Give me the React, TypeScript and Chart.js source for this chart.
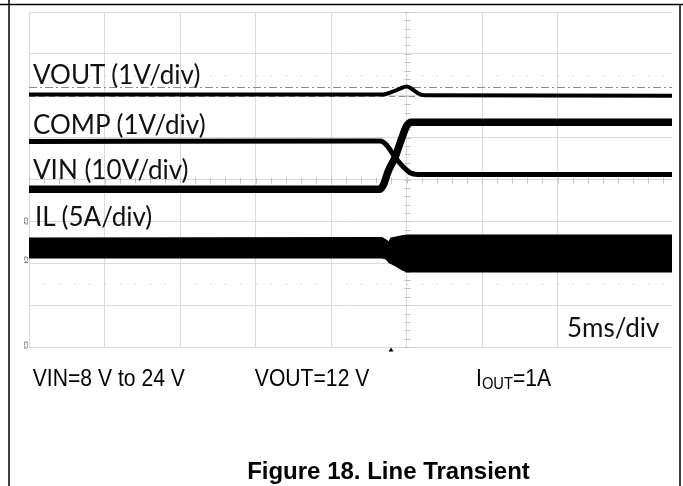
import React, { useEffect, useRef } from "react";
import { Chart, registerables } from "chart.js";

Chart.register(...registerables);

// Horizontal axis: time in ms relative to the trigger (5 ms/div).
// Vertical axis: screen divisions (8 div, centre line = 0).

const voutTime = [-25, -1.56, -0.96, -0.43, 0, 0.36, 0.76, 1.23, 17.58];
const voutDiv = [2.03, 2.03, 2.09, 2.17, 2.22, 2.16, 2.06, 2.01, 2.0];

const compTime = [-25, -1.75, -1.31, -0.76, -0.21, 0.23, 0.76, 17.58];
const compDiv = [0.91, 0.92, 0.82, 0.53, 0.3, 0.16, 0.12, 0.12];

const vinTime = [-25, -1.75, -1.54, -1.21, -0.76, -0.32, 0.01, 0.3, 17.58];
const vinDiv = [-0.23, -0.23, -0.135, 0.2, 0.53, 0.98, 1.28, 1.37, 1.37];

const ilTime = [-25, -1.62, -1.36, -1.16, -1.03, -0.7, -0.3, 0.03, 17.58];
const ilTopDiv = [-1.4, -1.39, -1.45, -1.5, -1.4, -1.38, -1.35, -1.33, -1.33];
const ilBottomDiv = [-1.87, -1.87, -1.89, -1.98, -2.0, -2.06, -2.15, -2.2, -2.2];

const dottedRows = [2.5, -2.5];
const cursorDashDot = 2.2;
const cursorDashed = 2.0;
const triggerTime = -1.03;

const channelLabels = ["VOUT (1V/div)", "COMP (1V/div)", "VIN (10V/div)", "IL (5A/div)"];
const timeBaseLabel = "5ms/div";
const conditionLabels = ["VIN=8 V to 24 V", "VOUT=12 V"];
const figureTitle = "Figure 18. Line Transient";

const W = 683;
const H = 486;

const pts = (xs: number[], ys: number[]) => xs.map((x, i) => ({ x, y: ys[i] }));

const scopeDecor = {
  id: "scopeDecor",
  beforeDatasetsDraw(chart: any) {
    const { ctx, scales } = chart;
    const x = scales.x;
    const y = scales.y;
    ctx.save();
    ctx.strokeStyle = "#c2c2c2";
    ctx.lineWidth = 1;
    const cx = Math.round(x.getPixelForValue(0)) + 0.5;
    const cy = Math.round(y.getPixelForValue(0)) + 0.5;
    ctx.beginPath();
    for (let i = -20; i <= 20; i++) {
      const py = Math.round(y.getPixelForValue(i * 0.2)) + 0.5;
      ctx.moveTo(cx - 3, py);
      ctx.lineTo(cx + 3, py);
    }
    for (let t = -25; t <= 17.5; t += 1) {
      const px = Math.round(x.getPixelForValue(t)) + 0.5;
      ctx.moveTo(px, cy - 3);
      ctx.lineTo(px, cy + 3);
    }
    ctx.stroke();
    ctx.fillStyle = "#bdbdbd";
    for (const row of dottedRows) {
      const py = Math.round(y.getPixelForValue(row));
      for (let t = -25; t <= 17.5; t += 1) {
        const px = Math.round(x.getPixelForValue(t));
        ctx.fillRect(px, py, 1, 1);
      }
    }
    ctx.strokeStyle = "#8c8c8c";
    ctx.setLineDash([8, 3, 2, 3]);
    let py = Math.round(y.getPixelForValue(cursorDashDot)) + 0.5;
    ctx.beginPath();
    ctx.moveTo(x.left, py);
    ctx.lineTo(x.right, py);
    ctx.stroke();
    ctx.setLineDash([6, 4]);
    py = Math.round(y.getPixelForValue(cursorDashed)) + 0.5;
    ctx.beginPath();
    ctx.moveTo(x.left, py);
    ctx.lineTo(x.right, py);
    ctx.stroke();
    ctx.restore();
  },
  afterDraw(chart: any) {
    const { ctx, scales } = chart;
    const px = scales.x.getPixelForValue(triggerTime);
    const by = scales.y.getPixelForValue(-4);
    ctx.save();
    ctx.fillStyle = "#000";
    ctx.beginPath();
    ctx.moveTo(px, by + 0.5);
    ctx.lineTo(px - 2.5, by + 4.5);
    ctx.lineTo(px + 2.5, by + 4.5);
    ctx.closePath();
    ctx.fill();
    ctx.restore();
  },
};

export default function App() {
  const ref = useRef<HTMLCanvasElement>(null);

  useEffect(() => {
    const gridColor = "#dadada";
    const chart = new Chart(ref.current as HTMLCanvasElement, {
      type: "line",
      data: {
        datasets: [
          {
            label: "IL top",
            data: pts(ilTime, ilTopDiv),
            borderColor: "#000",
            borderWidth: 1.5,
            pointRadius: 0,
            fill: false,
          },
          {
            label: "IL bottom",
            data: pts(ilTime, ilBottomDiv),
            borderColor: "#000",
            borderWidth: 1.5,
            pointRadius: 0,
            fill: "-1",
            backgroundColor: "#000",
          },
          {
            label: "VIN",
            data: pts(vinTime, vinDiv),
            borderColor: "#000",
            borderWidth: 7.5,
            pointRadius: 0,
            cubicInterpolationMode: "monotone",
            fill: false,
          },
          {
            label: "COMP",
            data: pts(compTime, compDiv),
            borderColor: "#000",
            borderWidth: 5,
            pointRadius: 0,
            cubicInterpolationMode: "monotone",
            fill: false,
          },
          {
            label: "VOUT",
            data: pts(voutTime, voutDiv),
            borderColor: "#000",
            borderWidth: 4,
            pointRadius: 0,
            cubicInterpolationMode: "monotone",
            fill: false,
          },
        ],
      },
      options: {
        animation: false,
        responsive: false,
        devicePixelRatio: 1,
        layout: { padding: { left: 29, top: 12, right: 11, bottom: 139 } },
        plugins: { legend: { display: false }, tooltip: { enabled: false } },
        scales: {
          x: {
            type: "linear",
            min: -25,
            max: 17.58,
            afterBuildTicks: (s: any) => {
              s.ticks = s.ticks.filter((t: any) => Math.abs(t.value / 5 - Math.round(t.value / 5)) < 1e-6);
            },
            ticks: { display: false, stepSize: 5 },
            grid: { color: gridColor, drawTicks: false, lineWidth: 1 },
            border: { display: false },
          },
          y: {
            type: "linear",
            min: -4,
            max: 4,
            ticks: { display: false, stepSize: 1 },
            grid: { color: gridColor, drawTicks: false, lineWidth: 1 },
            border: { display: false },
          },
        },
      },
      plugins: [scopeDecor],
    } as any);
    return () => chart.destroy();
  }, []);

  const scopeFont = "Lato, 'Open Sans', sans-serif";
  const docFont = "'Liberation Sans', Arial, sans-serif";
  const sx = 0.92;
  const fs = 26;

  return (
    <div style={{ position: "absolute", left: 0, top: 0, width: W, height: H, background: "#fff", overflow: "hidden" }}>
      <canvas ref={ref} width={W} height={H} style={{ position: "absolute", left: 0, top: 0, width: W, height: H }} />
      <svg width={W} height={H} style={{ position: "absolute", left: 0, top: 0 }}>
        <line x1={0} y1={4.5} x2={W} y2={4.5} stroke="#000" strokeWidth={1.5} />
        <line x1={9} y1={0} x2={9} y2={H} stroke="#000" strokeWidth={1.5} />
        <line x1={680} y1={4.5} x2={680} y2={H} stroke="#000" strokeWidth={1.5} />

        <text x={33} y={84} fontFamily={scopeFont} fontSize={fs} fill="#111">{channelLabels[0]}</text>
        <text x={33} y={134} fontFamily={scopeFont} fontSize={fs} fill="#111">{channelLabels[1]}</text>
        <text x={33} y={178.5} fontFamily={scopeFont} fontSize={fs} fill="#111">{channelLabels[2]}</text>
        <text x={35} y={226} fontFamily={scopeFont} fontSize={fs} fill="#111">{channelLabels[3]}</text>
        <text x={567} y={337} fontFamily={scopeFont} fontSize={fs} fill="#111">{timeBaseLabel}</text>

        <text transform="translate(24,221) rotate(90)" fontFamily={docFont} fontSize={6} textAnchor="middle" fill="#444">C2</text>
        <text transform="translate(24,260) rotate(90)" fontFamily={docFont} fontSize={6} textAnchor="middle" fill="#444">C4</text>
        <text transform="translate(24,345) rotate(90)" fontFamily={docFont} fontSize={6} textAnchor="middle" fill="#444">C3</text>

        <text transform={`translate(32.7,386) scale(${sx},1)`} fontFamily={docFont} fontSize={23} fill="#000">{conditionLabels[0]}</text>
        <text transform={`translate(254.8,386) scale(${sx},1)`} fontFamily={docFont} fontSize={23} fill="#000">{conditionLabels[1]}</text>
        <text transform={`translate(476,386) scale(${sx},1)`} fontFamily={docFont} fontSize={23} fill="#000">
          I<tspan fontSize={16} dy={3}>OUT</tspan><tspan fontSize={23} dy={-3}>=1A</tspan>
        </text>
        <text x={388.5} y={478.5} fontFamily={docFont} fontSize={24} fontWeight="bold" textAnchor="middle" fill="#000">{figureTitle}</text>
      </svg>
    </div>
  );
}
